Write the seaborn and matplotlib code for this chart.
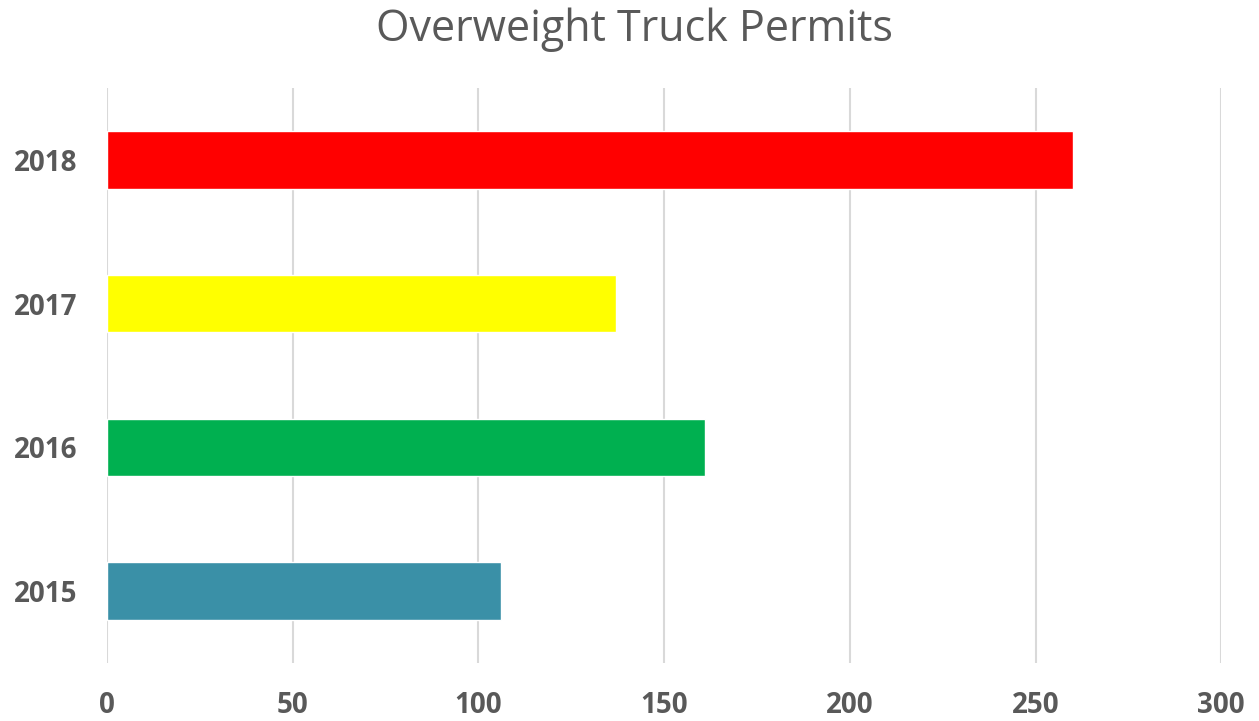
import pandas as pd
import seaborn as sns
import matplotlib.pyplot as plt

years = ["2018", "2017", "2016", "2015"]
permits = [260, 137, 161, 106]
colors = ["#FF0000", "#FFFF00", "#00B050", "#3A90A7"]

df = pd.DataFrame({"year": years, "permits": permits})

sns.set_style("white")
plt.rcParams['font.family'] = ['Open Sans', 'DejaVu Sans']

fig, ax = plt.subplots(figsize=(12.59, 7.21), dpi=100)
fig.subplots_adjust(left=0.085, right=0.97, top=0.878, bottom=0.0805)

sns.barplot(data=df, x="permits", y="year", hue="year", order=years,
            palette=dict(zip(years, colors)), width=0.4, legend=False,
            saturation=1, ax=ax)

ax.set_xlim(0, 300)
ax.set_ylim(3.5, -0.5)
ax.set_xticks(range(0, 301, 50))
ax.xaxis.grid(True, color="#D9D9D9", linewidth=1.5)
ax.set_axisbelow(True)
sns.despine(ax=ax, left=True, bottom=True)
ax.tick_params(axis="both", length=0, labelsize=20, labelcolor="#595959")
ax.tick_params(axis="x", pad=20)
ax.tick_params(axis="y", pad=21)
for lab in ax.get_xticklabels() + ax.get_yticklabels():
    lab.set_fontweight("bold")
ax.set_xlabel("")
ax.set_ylabel("")

fig.suptitle("Overweight Truck Permits", x=0.504, y=0.99, fontsize=31,
             color="#595959")

plt.savefig("out.png", dpi=100)
